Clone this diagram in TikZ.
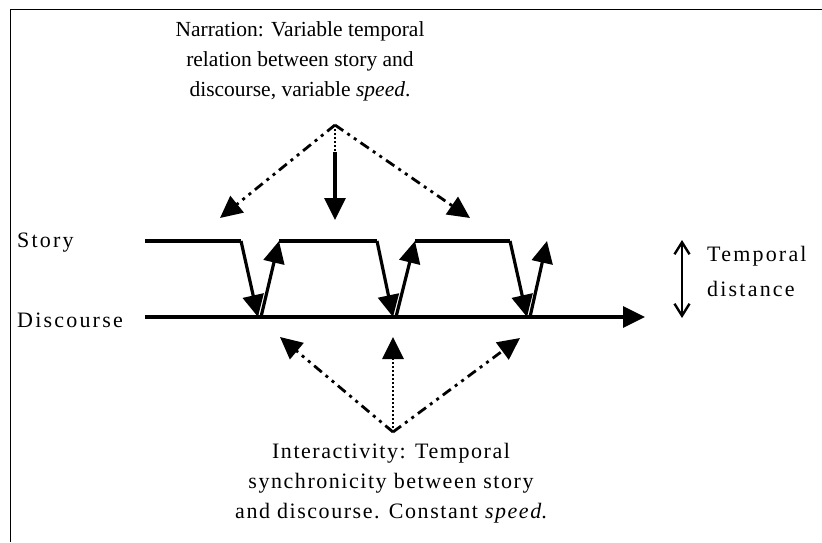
\documentclass[tikz,border=0pt]{standalone}
\usepackage{fontspec}
\setmainfont{Liberation Serif}
\usetikzlibrary{arrows.meta}
\begin{document}
\begin{tikzpicture}[x=1pt,y=-1pt,
  frame/.style={line width=1.3pt},
  axis/.style={line width=3.2pt},
  tri/.style={-{Triangle[length=22pt,width=21pt]}},
  dashdots/.style={line width=2.8pt,dash pattern=on 10pt off 5pt on 3pt off 5pt on 3pt off 5pt},
  dotline/.style={line width=2.8pt,dash pattern=on 2pt off 2pt},
  barbs/.style={{Straight Barb[length=12pt,width=15pt,line width=2.4pt]}-{Straight Barb[length=12pt,width=15pt,line width=2.4pt]}},
  txt/.style={inner sep=0pt,font=\fontsize{21.5}{30}\selectfont,align=center},
  wide/.style={inner sep=0pt,font=\fontsize{22}{30}\selectfont\addfontfeatures{LetterSpace=10}}]
\useasboundingbox (0,0) rectangle (822,542);
\fill[white] (0,0) rectangle (822,542);

% frame corner
\draw[frame] (10.5,542) -- (10.5,9.5) -- (822,9.5);

% captions
\node[txt] (narr) at (300,61) {Narration: Variable temporal\\relation between story and\\discourse, variable \textit{speed}.};
\node[txt,font=\fontsize{22}{30}\selectfont\addfontfeatures{LetterSpace=7}] (inter) at (391,483) {Interactivity: Temporal\\synchronicity between story\\and discourse. Constant \textit{speed}.};
\node[wide,anchor=west] (story) at (17,243) {Story};
\node[wide,anchor=west] (disc) at (17,320) {Discourse};
\node[wide,anchor=west,align=left,font=\fontsize{22}{35}\selectfont\addfontfeatures{LetterSpace=10}] (tdist) at (707,271) {Temporal\\distance};

% story and discourse time lines
\coordinate (s0) at (145,241);
\coordinate (a1) at (241,241); \coordinate (b1) at (258,317); \coordinate (u1) at (261,317); \coordinate (c1) at (279,241);
\coordinate (a2) at (377,241); \coordinate (b2) at (393,317); \coordinate (u2) at (396,317); \coordinate (c2) at (415,241);
\coordinate (a3) at (510,241); \coordinate (b3) at (527,317); \coordinate (u3) at (530,317); \coordinate (c3) at (547,241);
\coordinate (d0) at (145,317);
\coordinate (d1) at (645,317);

\draw[axis,line join=miter] (s0) -- (a1);
\draw[axis,line join=miter] (c1) -- (a2);
\draw[axis,line join=miter] (c2) -- (a3);
\foreach \i in {1,2,3}{
  \draw[axis,tri] (a\i) -- (b\i);
  \draw[axis,tri] (u\i) -- (c\i);
}
\draw[axis,tri] (d0) -- (d1);

% temporal distance marker
\coordinate (t0) at (682,240);
\coordinate (t1) at (682,318);
\draw[line width=2.6pt,barbs] (t0) -- (t1);

% narration pointers
\coordinate (n0) at (335,125);
\coordinate (nm) at (335,152);
\coordinate (nl) at (220,218);
\coordinate (nc) at (335,220);
\coordinate (nr) at (470,218);
\draw[dashdots,tri] (n0) -- (nl);
\draw[dashdots,tri] (n0) -- (nr);
\draw[dotline] (n0) -- (nm);
\draw[axis,tri] (nm) -- (nc);

% interactivity pointers
\coordinate (i0) at (393,432);
\coordinate (il) at (280,337);
\coordinate (ic) at (393,337);
\coordinate (ir) at (520,338);
\draw[dashdots,tri] (i0) -- (il);
\draw[dashdots,tri] (i0) -- (ir);
\draw[dotline,tri] (i0) -- (ic);
\end{tikzpicture}
\end{document}
